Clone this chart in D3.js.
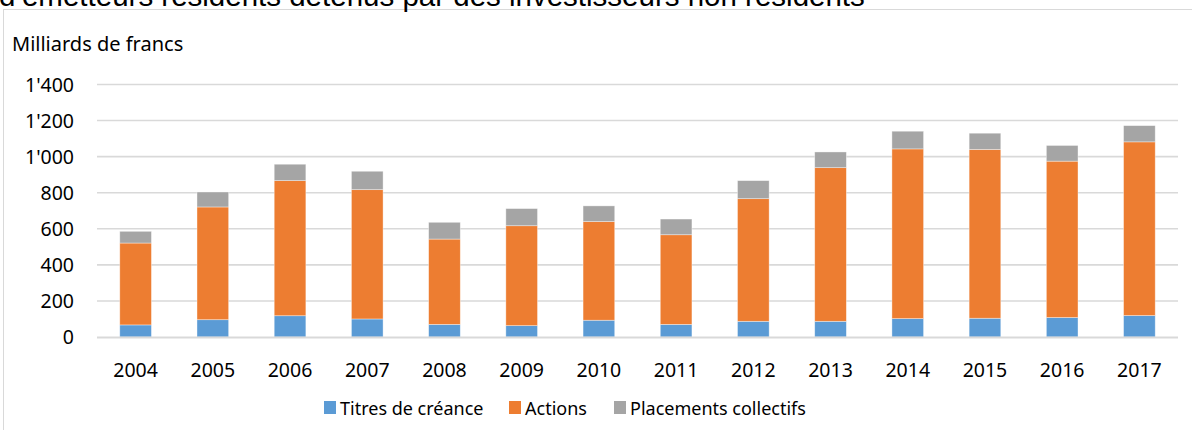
<!DOCTYPE html>
<html>
<head>
<meta charset="utf-8">
<script src="https://cdn.jsdelivr.net/npm/d3@7"></script>
<style>
  body { margin: 0; background: #fff; }
  svg { display: block; }
</style>
</head>
<body>
<svg id="chart"></svg>
<script>
// values (milliards de francs)
var years = ["2004", "2005", "2006", "2007", "2008", "2009", "2010", "2011", "2012", "2013", "2014", "2015", "2016", "2017"];
var titres = [67, 96, 118, 100, 70, 63, 93, 70, 87, 87, 102, 104, 108, 119];
var actions = [454, 625, 749, 717, 473, 554, 547, 497, 680, 852, 941, 936, 867, 963];
var placements = [65, 83, 91, 102, 93, 95, 87, 87, 100, 87, 98, 90, 87, 90];
var seriesNames = ["Titres de créance", "Actions", "Placements collectifs"];
var yTicks = [0, 200, 400, 600, 800, 1000, 1200, 1400];

var width = 1192;
var height = 430;
var colors = ["#5b9bd5", "#ed7d31", "#a5a5a5"];
var font = "'Noto Sans', sans-serif";

var table = years.map(function(y, i) {
    return { year: y, titres: titres[i], actions: actions[i], placements: placements[i] };
});
var stack = d3.stack().keys(["titres", "actions", "placements"])(table);

var svg = d3.select("#chart")
    .attr("width", width)
    .attr("height", height);

// chart box (cut off at right and bottom like the screenshot)
svg.append("rect")
    .attr("x", 3.5)
    .attr("y", 9.5)
    .attr("width", width + 10)
    .attr("height", height + 10)
    .attr("fill", "#fff")
    .attr("stroke", "#d9d9d9")
    .attr("stroke-width", 1);

// cropped title line above the box
svg.append("text")
    .attr("x", -1)
    .attr("y", 6)
    .style("font-family", "'Liberation Sans', Arial, sans-serif")
    .style("font-size", "29.5px")
    .attr("fill", "#000")
    .text("d’émetteurs résidents détenus par des investisseurs non résidents");

var xScale = d3.scaleBand()
    .domain(years)
    .range([97, 1178])
    .paddingInner(0.59)
    .paddingOuter(0.295);

var yScale = d3.scaleLinear()
    .domain([0, 1400])
    .range([337, 84.5]);

var fmt = d3.formatLocale({ decimal: ".", thousands: "'", grouping: [3], currency: ["", ""] }).format(",");

// gridlines
svg.append("g")
    .selectAll("line")
    .data(yTicks.filter(function(d) { return d > 0; }))
    .enter()
    .append("line")
     .attr("x1", 97)
     .attr("x2", 1178)
     .attr("y1", d => yScale(d))
     .attr("y2", d => yScale(d))
     .attr("stroke", "#d9d9d9")
     .attr("stroke-width", 1.6);

// y tick labels
svg.append("g")
    .selectAll("text")
    .data(yTicks)
    .enter()
    .append("text")
     .attr("x", 74)
     .attr("y", d => yScale(d))
     .attr("dy", "0.36em")
     .style("text-anchor", "end")
     .style("font-family", font)
     .style("font-size", "19.5px")
     .attr("fill", "#000")
     .text(d => fmt(d));

// stacked bars
svg.append("g")
    .selectAll("g")
    .data(stack)
    .enter()
    .append("g")
     .attr("fill", (d, i) => colors[i])
    .selectAll("rect")
    .data(d => d)
    .enter()
    .append("rect")
     .attr("x", d => xScale(d.data.year))
     .attr("y", d => yScale(d[1]))
     .attr("width", xScale.bandwidth())
     .attr("height", d => yScale(d[0]) - yScale(d[1]))
     .attr("stroke", "#fff")
     .attr("stroke-opacity", 0.5)
     .attr("stroke-width", 0.75);

// baseline
svg.append("line")
    .attr("x1", 97)
    .attr("x2", 1178)
    .attr("y1", yScale(0) + 0.5)
    .attr("y2", yScale(0) + 0.5)
    .attr("stroke", "#d9d9d9")
    .attr("stroke-width", 2);

// x labels
svg.append("g")
    .selectAll("text")
    .data(years)
    .enter()
    .append("text")
     .attr("x", d => xScale(d) + xScale.bandwidth() / 2)
     .attr("y", 376.5)
     .style("text-anchor", "middle")
     .style("font-family", font)
     .style("font-size", "19.5px")
     .attr("fill", "#000")
     .text(d => d);

// unit label
svg.append("text")
    .attr("x", 12)
    .attr("y", 51)
    .style("font-family", font)
    .style("font-size", "20px")
    .attr("fill", "#000")
    .text("Milliards de francs");

// legend
var legendX = [324, 509, 614];
var legend = svg.append("g")
    .selectAll("g")
    .data(seriesNames)
    .enter()
    .append("g")
     .attr("transform", (d, i) => `translate(${legendX[i]}, 401)`);

legend.append("rect")
    .attr("width", 12)
    .attr("height", 13)
    .attr("fill", (d, i) => colors[i]);

legend.append("text")
    .attr("x", 16)
    .attr("y", 14)
    .style("font-family", font)
    .style("font-size", "18px")
    .attr("fill", "#000")
    .text(d => d);
</script>
</body>
</html>
